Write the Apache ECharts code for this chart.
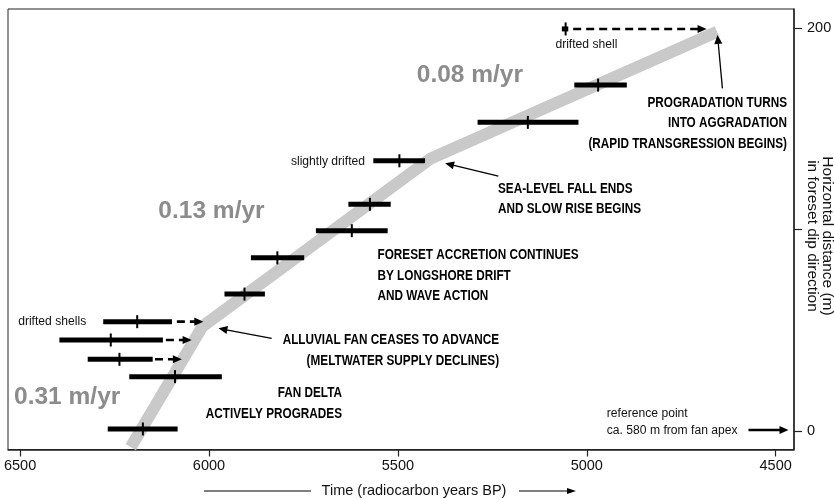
<!DOCTYPE html>
<html>
<head>
<meta charset="utf-8">
<script src="https://cdn.jsdelivr.net/npm/echarts@6/dist/echarts.min.js"></script>
<style>
  html, body { margin: 0; padding: 0; background: #fff; }
  #chart { width: 834px; height: 499px; }
</style>
</head>
<body>
<div id="chart"></div>
<script>
// radiocarbon samples: centre age, older / younger limit, distance (m)
const sampleAge   = [6175, 6090, 6237, 6260, 6190, 5906, 5819, 5622, 5574, 5496, 5156, 4970, 5056];
const sampleOlder = [6268, 6211, 6321, 6396, 6280, 5959, 5889, 5717, 5631, 5565, 5289, 5033, 5066];
const sampleYounger = [6083, 5966, 6149, 6122, 6098, 5852, 5748, 5527, 5519, 5428, 5022, 4894, 5049];
const sampleDist  = [1, 27, 35.6, 45.2, 54.3, 68, 86, 99.5, 112.6, 134.2, 153.3, 171.8, 199.7];

// drifted shells: where they were found -> where they belong
const driftFrom = [6143, 6114, 6085, 5036];
const driftTo   = [6072, 6046, 6015, 4683];
const driftDist = [35.6, 45.2, 54.3, 199.7];

// progradation trend (grey band)
const trendAge  = [6207, 6017, 5413, 4655];
const trendDist = [-8, 52, 135.4, 198.3];

const xTicks = [6500, 6000, 5500, 5000, 4500];
const yTicks = [0, 100, 200];
const yLabels = [0, 200];

const rateText = ['0.31 m/yr', '0.13 m/yr', '0.08 m/yr'];
const rateAt = [[6516, 16.9], [6134, 108.9], [5450, 176.8]];

const noteText = [
  'PROGRADATION TURNS\nINTO AGGRADATION\n(RAPID TRANSGRESSION BEGINS)',
  'SEA-LEVEL FALL ENDS\nAND SLOW RISE BEGINS',
  'FORESET ACCRETION CONTINUES\nBY LONGSHORE DRIFT\nAND WAVE ACTION',
  'ALLUVIAL FAN CEASES TO ADVANCE\n(MELTWATER SUPPLY DECLINES)',
  'FAN DELTA\nACTIVELY PROGRADES'
];
const noteAt = [[4470, 168.1], [5235, 125.4], [5554, 92.4], [5232, 50.1], [5648, 23.7]];
const noteAlign = ['right', 'left', 'left', 'right', 'right'];

// pointer arrows from notes to the trend
const pointerFrom = [[4641, 170.2], [5234, 126.6], [5834, 46]];
const pointerTo   = [[4654, 196.7], [5375, 133], [5975, 51]];

const smallText = ['drifted shells', 'slightly drifted', 'drifted shell', 'reference point\nca. 580 m from fan apex'];
const smallAt = [[6325, 54.5], [5587, 134], [5001, 191.7], [4947, 12.9]];
const smallAlign = ['right', 'right', 'center', 'left'];
const smallVAlign = ['middle', 'middle', 'middle', 'top'];

const refArrow = [[4572, 0.5, 4466, 0.5]];

const sansFont = "'Liberation Sans', Arial, sans-serif";

function arrowRenderer(width, head, dash) {
  return function (params, api) {
    const a = api.coord([api.value(0), api.value(1)]);
    const b = api.coord([api.value(2), api.value(3)]);
    const dx = b[0] - a[0], dy = b[1] - a[1];
    const len = Math.hypot(dx, dy);
    const ux = dx / len, uy = dy / len;
    const base = [b[0] - ux * head, b[1] - uy * head];
    const hw = head * 0.45;
    return {
      type: 'group',
      children: [
        {
          type: 'line',
          shape: { x1: a[0], y1: a[1], x2: base[0] + ux, y2: base[1] + uy },
          style: { stroke: '#000', lineWidth: width, lineDash: dash }
        },
        {
          type: 'polygon',
          shape: { points: [b, [base[0] - uy * hw, base[1] + ux * hw], [base[0] + uy * hw, base[1] - ux * hw]] },
          style: { fill: '#000' }
        }
      ]
    };
  };
}

function renderSample(params, api) {
  const mid = api.coord([api.value(0), api.value(3)]);
  const o = api.coord([api.value(1), api.value(3)]);
  const y = api.coord([api.value(2), api.value(3)]);
  const x0 = Math.min(o[0], y[0]);
  return {
    type: 'group',
    children: [
      { type: 'rect', shape: { x: x0, y: mid[1] - 2.5, width: Math.abs(y[0] - o[0]), height: 5 }, style: { fill: '#000' } },
      { type: 'rect', shape: { x: mid[0] - 1, y: mid[1] - 6.5, width: 2, height: 13 }, style: { fill: '#000' } }
    ]
  };
}

// text placed at data coordinates; scaleX squeezes the bold captions
function textSeries(texts, at, aligns, vAligns, style, scaleX) {
  return {
    type: 'custom',
    silent: true,
    z: 5,
    clip: false,
    data: at.map(p => [p[0], p[1]]),
    renderItem: function (params, api) {
      const p = api.coord([api.value(0), api.value(1)]);
      const i = params.dataIndex;
      return {
        type: 'text',
        x: p[0],
        y: p[1],
        scaleX: scaleX || 1,
        style: Object.assign({
          text: texts[i],
          align: aligns[i],
          verticalAlign: vAligns[i]
        }, style)
      };
    }
  };
}

const chart = echarts.init(document.getElementById('chart'));
chart.setOption({
  animation: false,
  backgroundColor: '#fff',
  grid: {
    left: 8, right: 40, top: 9, bottom: 49.5,
    outerBoundsMode: 'none',
    containLabel: false,
    show: true, borderColor: '#222', borderWidth: 1
  },
  xAxis: {
    type: 'value',
    inverse: true,
    min: 4451.5,
    max: 6532,
    position: 'bottom',
    splitLine: { show: false },
    axisLine: { onZero: false, lineStyle: { color: '#222', width: 1.5 } },
    axisTick: { customValues: xTicks, length: 7, lineStyle: { color: '#222', width: 1.2 } },
    axisLabel: { customValues: xTicks, formatter: v => String(v), fontFamily: sansFont, fontSize: 14.5, color: '#111', margin: 9 },
    name: 'Time (radiocarbon years BP)',
    nameLocation: 'middle',
    nameGap: 34,
    nameTextStyle: { fontFamily: sansFont, fontSize: 14.5, color: '#111', padding: [0, 0, 0, 26] }
  },
  yAxis: {
    type: 'value',
    min: -9.19,
    max: 209.6,
    position: 'right',
    splitLine: { show: false },
    axisLine: { show: true, onZero: false, lineStyle: { color: '#222', width: 1.5 } },
    axisTick: { show: true, customValues: yTicks, length: 8, lineStyle: { color: '#222', width: 1.2 } },
    axisLabel: { customValues: yLabels, fontFamily: sansFont, fontSize: 14.5, color: '#111', margin: 13 }
  },
  graphic: [
    // x axis title decorations
    { type: 'line', shape: { x1: 204, y1: 491, x2: 311, y2: 491 }, style: { stroke: '#000', lineWidth: 1.2 } },
    { type: 'line', shape: { x1: 519, y1: 491, x2: 568, y2: 491 }, style: { stroke: '#000', lineWidth: 1.2 } },
    { type: 'polygon', shape: { points: [[576, 491], [567, 488], [567, 494]] }, style: { fill: '#000' } },
    // y axis title, reading top to bottom
    {
      type: 'text',
      x: 820, y: 236,
      rotation: -Math.PI / 2,
      style: {
        text: 'Horizontal distance (m)\nin foreset dip direction',
        align: 'center', verticalAlign: 'middle',
        fontFamily: sansFont, fontSize: 15.5, lineHeight: 14.5, fill: '#111'
      }
    }
  ],
  series: [
    {
      name: 'trend',
      type: 'line',
      data: trendAge.map((t, i) => [t, trendDist[i]]),
      symbol: 'none',
      silent: true,
      z: 1,
      lineStyle: { color: '#c9c9c9', width: 12, cap: 'butt', join: 'miter' }
    },
    {
      name: 'samples',
      type: 'custom',
      z: 3,
      renderItem: renderSample,
      data: sampleAge.map((t, i) => [t, sampleOlder[i], sampleYounger[i], sampleDist[i]])
    },
    {
      name: 'drift',
      type: 'custom',
      z: 3,
      renderItem: arrowRenderer(2.6, 9, [8, 5]),
      data: driftFrom.map((t, i) => [t, driftDist[i], driftTo[i], driftDist[i]])
    },
    {
      name: 'pointers',
      type: 'custom',
      z: 3,
      renderItem: arrowRenderer(1.3, 9, null),
      data: pointerFrom.map((p, i) => [p[0], p[1], pointerTo[i][0], pointerTo[i][1]])
    },
    {
      name: 'reference',
      type: 'custom',
      z: 3,
      clip: false,
      renderItem: arrowRenderer(2.6, 9, null),
      data: refArrow
    },
    textSeries(rateText, rateAt, ['left', 'left', 'left'], ['middle', 'middle', 'middle'],
      { fontFamily: sansFont, fontWeight: 'bold', fontSize: 24.5, fill: '#8c8c8c' }),
    textSeries(noteText, noteAt, noteAlign, noteAlign.map(() => 'top'),
      { fontFamily: sansFont, fontWeight: 'bold', fontSize: 14, lineHeight: 20.5, fill: '#000' }, 0.84),
    textSeries(smallText, smallAt, smallAlign, smallVAlign,
      { fontFamily: sansFont, fontSize: 12.5, lineHeight: 17, fill: '#111' }, 0.97)
  ]
});
</script>
</body>
</html>
